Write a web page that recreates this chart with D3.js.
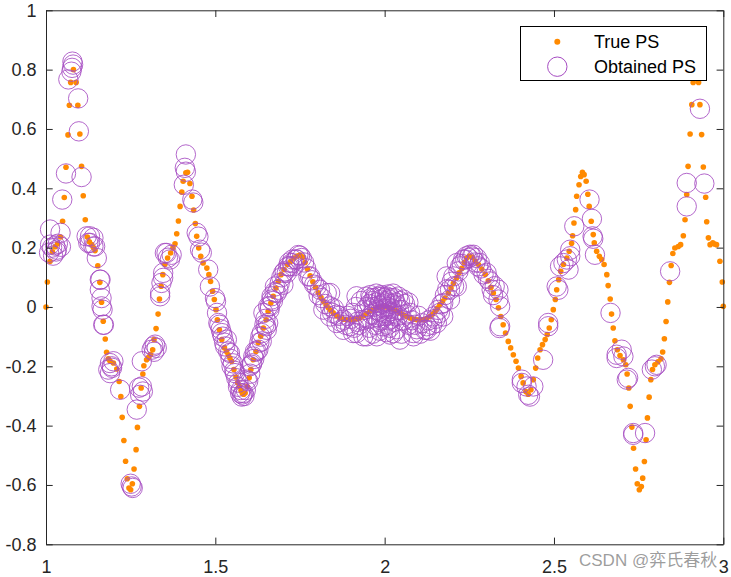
<!DOCTYPE html>
<html lang="en">
<head>
<meta charset="UTF-8">
<title>True PS vs Obtained PS</title>
<script src="https://d3js.org/d3.v7.min.js"></script>
<style>
  body { margin: 0; background: #fff; }
  svg { display: block; font-family: "Liberation Sans", Arial, sans-serif; }
</style>
</head>
<body>
<svg id="chart" width="731" height="577"></svg>
<script>
// axis ticks
const xTicks = [1, 1.5, 2, 2.5, 3];
const xTickLabels = ["1", "1.5", "2", "2.5", "3"];
const yTicks = [-0.8, -0.6, -0.4, -0.2, 0, 0.2, 0.4, 0.6, 0.8, 1];
const yTickLabels = ["-0.8", "-0.6", "-0.4", "-0.2", "0", "0.2", "0.4", "0.6", "0.8", "1"];
const seriesNames = ["True PS", "Obtained PS"];

// True PS (orange dots)
const truePS = [
  [1.000,0.000],[1.004,0.084],[1.012,0.154],[1.019,0.186],[1.027,0.203],[1.034,0.213],[1.043,0.236],[1.049,0.289],
  [1.054,0.369],[1.059,0.471],[1.065,0.580],[1.069,0.680],[1.073,0.757],[1.081,0.800],[1.089,0.757],[1.094,0.680],
  [1.100,0.583],[1.105,0.474],[1.110,0.375],[1.116,0.294],[1.122,0.236],[1.128,0.220],[1.135,0.210],[1.140,0.200],
  [1.145,0.190],[1.153,0.139],[1.159,0.083],[1.164,0.016],[1.169,-0.048],[1.175,-0.108],[1.179,-0.153],[1.184,-0.175],
  [1.189,-0.182],[1.199,-0.189],[1.209,-0.209],[1.216,-0.251],[1.221,-0.302],[1.225,-0.372],[1.230,-0.450],[1.235,-0.520],
  [1.240,-0.579],[1.245,-0.610],[1.250,-0.616],[1.255,-0.596],[1.260,-0.546],[1.266,-0.481],[1.270,-0.406],[1.276,-0.335],
  [1.281,-0.273],[1.286,-0.226],[1.289,-0.198],[1.297,-0.178],[1.303,-0.170],[1.309,-0.160],[1.315,-0.144],[1.319,-0.110],
  [1.325,-0.073],[1.331,-0.024],[1.335,0.027],[1.340,0.070],[1.345,0.109],[1.351,0.143],[1.359,0.165],[1.368,0.182],
  [1.375,0.200],[1.381,0.213],[1.386,0.247],[1.391,0.290],[1.396,0.339],[1.401,0.387],[1.405,0.424],[1.413,0.452],
  [1.418,0.454],[1.425,0.416],[1.431,0.373],[1.436,0.327],[1.441,0.281],[1.445,0.238],[1.451,0.199],[1.457,0.171],
  [1.464,0.148],[1.475,0.131],[1.481,0.109],[1.486,0.086],[1.492,0.053],[1.497,0.025],[1.502,-0.009],[1.506,-0.043],
  [1.512,-0.077],[1.519,-0.110],[1.527,-0.138],[1.533,-0.150],[1.538,-0.161],[1.543,-0.172],[1.548,-0.183],[1.555,-0.211],
  [1.561,-0.236],[1.566,-0.255],[1.571,-0.268],[1.576,-0.282],[1.580,-0.292],[1.584,-0.294],[1.588,-0.290],[1.594,-0.268],
  [1.600,-0.239],[1.605,-0.211],[1.612,-0.178],[1.620,-0.150],[1.627,-0.121],[1.634,-0.099],[1.642,-0.071],[1.650,-0.043],
  [1.656,-0.015],[1.664,0.013],[1.671,0.036],[1.679,0.064],[1.686,0.086],[1.694,0.109],[1.703,0.126],[1.713,0.143],
  [1.723,0.154],[1.732,0.165],[1.742,0.172],[1.750,0.175],[1.758,0.168],[1.765,0.150],[1.772,0.128],[1.780,0.105],
  [1.788,0.085],[1.796,0.066],[1.804,0.048],[1.812,0.032],[1.819,0.019],[1.827,0.007],[1.834,-0.003],[1.841,-0.012],
  [1.848,-0.020],[1.858,-0.030],[1.868,-0.037],[1.878,-0.041],[1.888,-0.043],[1.898,-0.043],[1.907,-0.043],[1.917,-0.040],
  [1.927,-0.037],[1.937,-0.030],[1.947,-0.022],[1.957,-0.014],[1.967,-0.008],[1.977,-0.003],[1.986,0.000],[1.995,0.001],
  [2.005,0.000],[2.015,-0.003],[2.025,-0.008],[2.035,-0.013],[2.045,-0.020],[2.055,-0.026],[2.065,-0.032],[2.075,-0.037],
  [2.085,-0.041],[2.095,-0.043],[2.105,-0.043],[2.114,-0.043],[2.124,-0.039],[2.134,-0.032],[2.142,-0.024],[2.149,-0.015],
  [2.156,-0.004],[2.163,0.008],[2.171,0.019],[2.178,0.030],[2.188,0.047],[2.196,0.064],[2.203,0.080],[2.212,0.098],
  [2.220,0.115],[2.228,0.130],[2.235,0.150],[2.242,0.165],[2.250,0.172],[2.258,0.168],[2.267,0.155],[2.277,0.143],
  [2.287,0.128],[2.297,0.110],[2.306,0.088],[2.314,0.066],[2.321,0.047],[2.329,0.025],[2.336,-0.003],[2.343,-0.032],
  [2.350,-0.060],[2.357,-0.088],[2.365,-0.116],[2.372,-0.138],[2.380,-0.161],[2.388,-0.183],[2.395,-0.206],[2.403,-0.234],
  [2.409,-0.256],[2.417,-0.285],[2.424,-0.294],[2.432,-0.279],[2.439,-0.245],[2.446,-0.206],[2.452,-0.172],[2.459,-0.144],
  [2.466,-0.127],[2.474,-0.110],[2.480,-0.093],[2.486,-0.071],[2.492,-0.043],[2.498,-0.009],[2.504,0.025],[2.508,0.058],
  [2.514,0.092],[2.520,0.120],[2.528,0.143],[2.538,0.165],[2.545,0.188],[2.552,0.215],[2.555,0.240],[2.559,0.283],
  [2.564,0.328],[2.567,0.373],[2.574,0.412],[2.579,0.440],[2.584,0.454],[2.589,0.446],[2.595,0.424],[2.600,0.380],
  [2.604,0.339],[2.610,0.289],[2.616,0.244],[2.619,0.216],[2.626,0.188],[2.634,0.171],[2.641,0.160],[2.648,0.143],
  [2.656,0.109],[2.660,0.072],[2.666,0.027],[2.670,-0.024],[2.675,-0.071],[2.680,-0.114],[2.687,-0.144],[2.695,-0.164],
  [2.705,-0.178],[2.712,-0.195],[2.716,-0.226],[2.721,-0.273],[2.725,-0.335],[2.730,-0.405],[2.735,-0.476],[2.741,-0.546],
  [2.746,-0.596],[2.752,-0.616],[2.758,-0.605],[2.762,-0.577],[2.767,-0.521],[2.772,-0.448],[2.776,-0.374],[2.781,-0.304],
  [2.786,-0.245],[2.791,-0.211],[2.798,-0.195],[2.807,-0.185],[2.816,-0.175],[2.821,-0.152],[2.826,-0.107],[2.831,-0.049],
  [2.836,0.017],[2.841,0.083],[2.846,0.140],[2.851,0.180],[2.857,0.199],[2.867,0.204],[2.874,0.210],[2.882,0.240],
  [2.887,0.294],[2.892,0.379],[2.896,0.474],[2.902,0.583],[2.907,0.682],[2.911,0.757],[2.919,0.800],[2.927,0.757],
  [2.931,0.682],[2.936,0.581],[2.941,0.472],[2.948,0.370],[2.951,0.287],[2.956,0.233],[2.961,0.210],[2.969,0.216],
  [2.974,0.212],[2.980,0.210],[2.990,0.154],[2.997,0.084],[3.000,0.002]
];

// Obtained PS (purple circles)
const obtainedPS = [
  [1.078,0.827],[1.080,0.817],[1.077,0.806],[1.075,0.793],[1.066,0.767],[1.095,0.703],[1.097,0.592],[1.059,0.450],
  [1.105,0.438],[1.048,0.362],[1.012,0.261],[1.043,0.250],[1.009,0.183],[1.018,0.200],[1.027,0.207],[1.035,0.213],
  [1.044,0.203],[1.021,0.173],[1.032,0.193],[1.012,0.210],[1.030,0.187],
  [1.120,0.238],[1.130,0.238],[1.140,0.233],[1.125,0.216],[1.145,0.204],[1.140,0.204],[1.130,0.216],[1.150,0.165],
  [1.159,0.092],[1.161,0.092],[1.159,0.058],[1.164,0.030],[1.164,0.002],[1.167,-0.009],[1.171,-0.060],[1.169,-0.060],
  [1.189,-0.189],[1.194,-0.200],[1.184,-0.211],[1.199,-0.183],[1.189,-0.223],[1.195,-0.205],[1.219,-0.279],
  [1.268,-0.346],[1.283,-0.268],[1.286,-0.285],[1.278,-0.296],[1.275,-0.272],[1.283,-0.183],
  [1.253,-0.605],[1.256,-0.610],[1.250,-0.596],
  [1.322,-0.127],[1.327,-0.138],[1.312,-0.144],[1.317,-0.133],[1.319,-0.151],
  [1.337,0.036],[1.341,0.081],[1.337,0.047],[1.346,0.098],[1.356,0.182],[1.351,0.182],[1.366,0.160],[1.371,0.176],
  [1.346,0.115],[1.360,0.166],
  [1.413,0.514],[1.410,0.469],[1.413,0.456],[1.407,0.412],[1.432,0.362],[1.435,0.352],[1.445,0.250],[1.450,0.237],
  [1.455,0.193],[1.460,0.183],[1.479,0.126],[1.484,0.069],[1.499,0.030],[1.502,0.019],[1.509,-0.054],[1.519,-0.088],
  [1.534,-0.110],[1.529,-0.133],[1.543,-0.155],[1.548,-0.200],[1.558,-0.223],[1.573,-0.290],[1.578,-0.302],[1.583,-0.290],
  [1.567,-0.269],[1.593,-0.245],[1.602,-0.200],[1.607,-0.195],[1.612,-0.167],[1.617,-0.150],[1.627,-0.144],[1.637,-0.116],
  [1.637,-0.088],[1.650,-0.065],[1.652,-0.077],[1.656,-0.054],[1.642,-0.020],[1.656,0.002],[1.661,0.002],[1.666,0.036],
  [1.666,0.025],[1.676,0.069],[1.681,0.047],[1.686,0.058],[1.701,0.075],[1.701,0.115],[1.711,0.115],[1.715,0.137],
  [1.720,0.137],[1.726,0.148],[1.730,0.137],[1.738,0.160],[1.740,0.160],[1.750,0.173],[1.780,0.103],[1.775,0.103],
  [1.799,0.069],[1.809,0.058],[1.829,0.047],[1.839,0.047],[1.819,-0.009],[1.839,0.002],[1.839,-0.032],[1.858,-0.026],
  [1.858,-0.054],[1.878,-0.043],[1.878,-0.077],[1.898,-0.065],[1.907,-0.088],[1.917,-0.088],[1.917,0.036],[1.937,-0.099],
  [1.947,-0.099],[1.977,-0.099],
  [1.505,-0.020],[1.512,-0.060],[1.516,-0.075],[1.522,-0.100],[1.526,-0.120],[1.538,-0.150],[1.545,-0.175],[1.552,-0.190],
  [1.556,-0.215],[1.562,-0.240],[1.568,-0.255],[1.575,-0.280],[1.580,-0.295],[1.586,-0.300],[1.590,-0.280],[1.597,-0.250],
  [1.603,-0.225],[1.609,-0.190],[1.615,-0.175],[1.622,-0.150],[1.630,-0.120],[1.633,-0.100],[1.645,-0.060],[1.648,-0.040],
  [1.660,-0.010],[1.670,0.020],[1.675,0.050],[1.690,0.080],[1.695,0.100],[1.705,0.120],[1.718,0.150],[1.728,0.160],
  [1.745,0.175],[1.755,0.165],[1.762,0.150],[1.768,0.130],[1.785,0.090],[1.792,0.075],[1.805,0.040],[1.815,0.030],
  [1.825,0.010],[1.845,-0.020],[1.850,-0.005],[1.865,-0.030],[1.870,-0.050],[1.885,-0.060],[1.890,-0.030],[1.900,-0.040],
  [1.905,-0.020],[1.910,-0.070],[1.915,0.000],[1.920,-0.050],
  [1.930,0.020],[1.940,-0.010],[1.945,0.035],[1.950,-0.040],[1.955,0.010],[1.960,0.030],[1.962,-0.025],[1.968,0.000],
  [1.970,0.030],[1.972,-0.060],[1.975,0.015],[1.978,-0.035],[1.980,0.035],[1.983,0.005],[1.985,-0.015],[1.988,0.025],
  [1.990,-0.045],[1.992,0.035],[1.994,0.010],[1.996,-0.020],[1.998,0.030],[2.000,-0.005],[2.002,0.015],[2.004,-0.030],
  [2.006,0.035],[2.008,0.000],[2.010,-0.060],[2.012,0.025],[2.015,-0.015],[2.018,0.030],[2.020,-0.040],[2.022,0.010],
  [2.025,-0.020],[2.028,0.030],[2.030,-0.050],[2.035,0.005],[2.040,-0.030],[2.045,0.020],[2.050,-0.010],[2.055,-0.045],
  [2.060,0.010],[2.065,-0.025],[1.925,-0.060],[1.935,-0.045],[2.070,-0.060],
  [1.955,-0.070],[1.965,-0.090],[1.985,-0.080],[1.995,-0.065],[2.005,-0.085],[2.015,-0.070],[2.035,-0.075],[2.050,-0.090],
  [1.958,0.040],[1.975,0.045],[1.990,0.040],[2.010,0.042],[2.025,0.045],[2.040,0.035],[2.055,0.025],[2.070,0.015],
  [1.965,0.020],[1.978,-0.010],[1.992,-0.030],[2.003,0.020],[2.018,-0.005],[2.032,0.015],[1.948,0.000],[2.042,-0.010],
  [1.982,-0.050],[2.012,-0.045],
  [2.075,-0.020],[2.080,-0.045],[2.090,-0.060],[2.095,-0.075],[2.100,-0.030],[2.105,-0.090],[2.110,-0.055],[2.130,-0.045],
  [2.135,-0.080],[2.140,-0.060],[2.150,-0.040],[2.158,-0.010],[2.168,0.010],[2.178,0.040],[2.185,0.060],[2.198,0.085],
  [2.205,0.070],[2.218,0.120],[2.228,0.145],[2.238,0.160],[2.248,0.165],[2.258,0.170],[2.268,0.150],[2.285,0.130],
  [2.292,0.110],[2.305,0.095],[2.320,0.040],[2.325,0.070],
  [2.026,-0.088],[2.045,-0.110],[2.016,-0.093],[2.085,-0.099],[2.085,-0.088],[2.124,-0.077],[2.124,-0.065],[2.119,-0.077],
  [2.154,-0.054],[2.163,-0.020],[2.173,-0.032],[2.144,-0.032],[2.173,0.013],[2.193,0.025],[2.193,0.058],[2.183,0.103],
  [2.203,0.103],[2.213,0.069],[2.213,0.148],[2.223,0.137],[2.232,0.160],[2.242,0.171],[2.252,0.176],[2.262,0.176],
  [2.272,0.165],[2.276,0.137],[2.281,0.148],[2.301,0.115],[2.311,0.086],[2.316,0.058],[2.336,0.058],[2.336,0.025],
  [2.341,0.002],[2.341,-0.065],[2.339,-0.071],
  [2.405,-0.245],[2.405,-0.256],[2.419,-0.268],[2.424,-0.296],[2.429,-0.302],[2.439,-0.268],[2.468,-0.178],[2.483,-0.065],
  [2.483,-0.054],[2.513,0.058],[2.508,0.069],[2.518,0.137],[2.528,0.148],[2.538,0.160],[2.543,0.126],[2.548,0.171],
  [2.548,0.193],[2.560,0.272],[2.605,0.362],[2.612,0.297],[2.614,0.238],[2.616,0.230],[2.621,0.176],
  [2.667,-0.020],[2.685,-0.161],[2.700,-0.144],[2.705,-0.167],[2.685,-0.172],[2.715,-0.245],[2.719,-0.239],
  [2.734,-0.431],[2.734,-0.425],[2.769,-0.425],[2.789,-0.211],[2.798,-0.200],[2.803,-0.195],
  [2.843,0.120],[2.892,0.418],[2.944,0.416],[2.892,0.339],[2.931,0.668]
];

const W = 731, H = 577;
const margin = { left: 46, right: 7.7, top: 10.3, bottom: 32.7 };
const axisColor = "#262626";
const dotColor = "#ff8a00";
const ringColor = "#a64cc2";

const svg = d3.select("#chart");

const x = d3.scaleLinear().domain([1, 3]).range([margin.left, W - margin.right]);
const y = d3.scaleLinear().domain([-0.8, 1]).range([H - margin.bottom, margin.top]);

// plot area background
svg.append("rect")
  .attr("x", x(1)).attr("y", y(1))
  .attr("width", x(3) - x(1)).attr("height", y(-0.8) - y(1))
  .attr("fill", "#fff");

// true PS dots
svg.append("g").selectAll("circle").data(truePS).enter().append("circle")
  .attr("cx", d => x(d[0])).attr("cy", d => y(d[1]))
  .attr("r", 2.8).attr("fill", dotColor);

// obtained PS rings
svg.append("g").selectAll("circle").data(obtainedPS).enter().append("circle")
  .attr("cx", d => x(d[0])).attr("cy", d => y(d[1]))
  .attr("r", 9.7).attr("fill", "none")
  .attr("stroke", ringColor).attr("stroke-width", 1).attr("stroke-opacity", 0.85);

// axes, ticks pointing inward
const tickLen = 6.7;
const gx = svg.append("g").attr("transform", `translate(0,${y(-0.8)})`)
  .call(d3.axisBottom(x).tickValues(xTicks).tickFormat((d, i) => xTickLabels[i])
    .tickSizeInner(-tickLen).tickSizeOuter(0).tickPadding(16));
const gy = svg.append("g").attr("transform", `translate(${x(1)},0)`)
  .call(d3.axisLeft(y).tickValues(yTicks).tickFormat((d, i) => yTickLabels[i])
    .tickSizeInner(-tickLen).tickSizeOuter(0).tickPadding(9.5));
const gt = svg.append("g").attr("transform", `translate(0,${y(1)})`)
  .call(d3.axisTop(x).tickValues(xTicks).tickFormat("").tickSizeInner(-tickLen).tickSizeOuter(0));
const gr = svg.append("g").attr("transform", `translate(${x(3)},0)`)
  .call(d3.axisRight(y).tickValues(yTicks).tickFormat("").tickSizeInner(-tickLen).tickSizeOuter(0));

[gx, gy, gt, gr].forEach(g => {
  g.selectAll("path, line").attr("stroke", axisColor).attr("stroke-width", 1);
  g.selectAll("text").attr("fill", axisColor)
    .style("font-family", "'Liberation Sans', Arial, sans-serif").style("font-size", "18px");
});

// legend
const lg = svg.append("g");
lg.append("rect").attr("x", 520.5).attr("y", 26.5).attr("width", 186).attr("height", 54)
  .attr("fill", "#fff").attr("stroke", "#000").attr("stroke-width", 1);
lg.append("circle").attr("cx", 557.3).attr("cy", 41.7).attr("r", 3).attr("fill", dotColor);
lg.append("circle").attr("cx", 557.3).attr("cy", 66.7).attr("r", 9.7)
  .attr("fill", "none").attr("stroke", ringColor).attr("stroke-width", 1);
lg.selectAll("text.lab").data(seriesNames).enter().append("text")
  .attr("class", "lab")
  .attr("x", 594).attr("y", (d, i) => 42 + i * 25).attr("dy", "0.35em")
  .attr("fill", "#000").style("font-size", "18px").text(d => d);

// watermark
svg.append("text").attr("x", 579).attr("y", 566)
  .attr("fill", "#8c8c8c").attr("fill-opacity", 0.85)
  .style("font-family", "'Liberation Sans', 'Noto Sans CJK SC', sans-serif").style("font-size", "17px")
  .text("CSDN @弈氏春秋");
</script>
</body>
</html>
